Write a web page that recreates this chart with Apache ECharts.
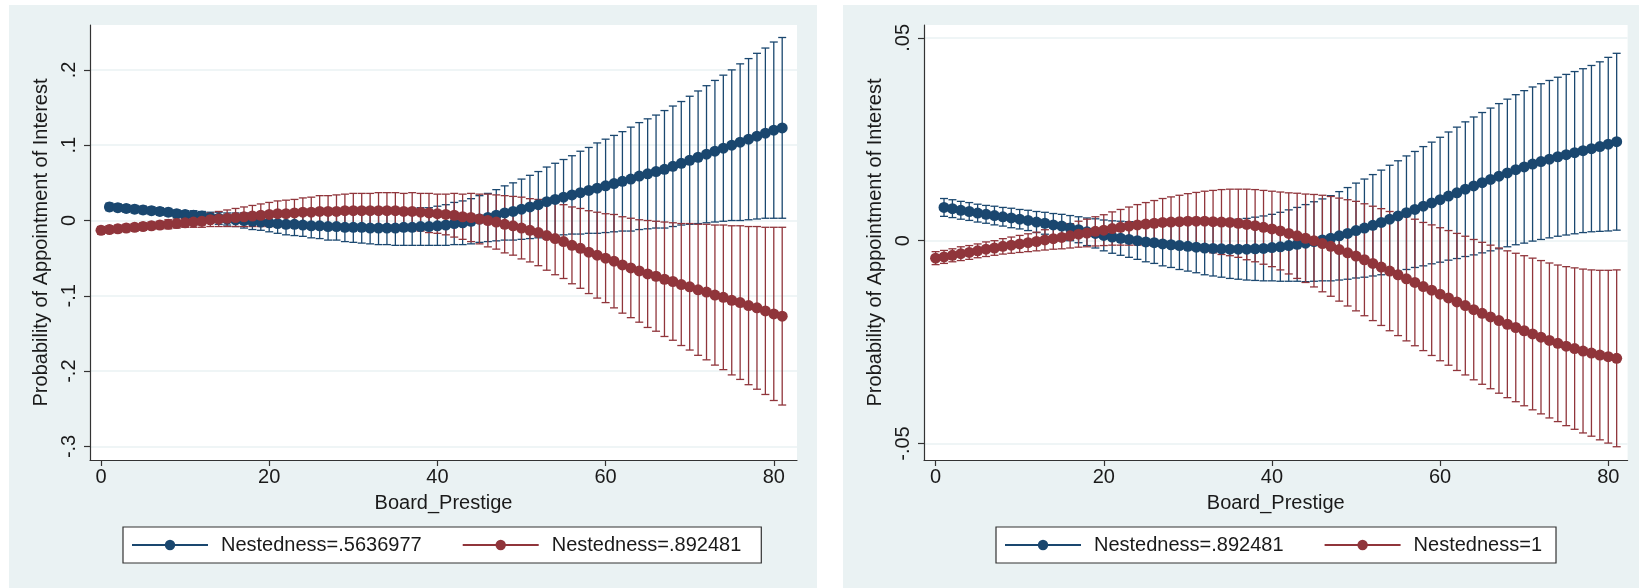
<!DOCTYPE html>
<html>
<head>
<meta charset="utf-8">
<script src="https://cdn.jsdelivr.net/npm/echarts@6/dist/echarts.min.js"></script>
<style>
html, body { margin: 0; padding: 0; background: #fff; width: 1639px; height: 588px; overflow: hidden; }
.panel { position: absolute; top: 5px; height: 583px; background: #eaf2f3; }
#left { left: 9px; width: 808px; }
#right { left: 843px; width: 796px; }
</style>
</head>
<body>
<div id="left" class="panel"></div>
<div id="right" class="panel"></div>
<script>
// Board_Prestige values (red series start at 0, blue at 1)
const prestige = [0,1,2,3,4,5,6,7,8,9,10,11,12,13,14,15,16,17,18,19,20,21,22,23,24,25,26,27,28,29,30,
  31,32,33,34,35,36,37,38,39,40,41,42,43,44,45,46,47,48,49,50,51,52,53,54,55,56,57,58,59,60,
  61,62,63,64,65,66,67,68,69,70,71,72,73,74,75,76,77,78,79,80,81];

const xTicks = [0, 20, 40, 60, 80];
const yTicksLeft = [-0.3, -0.2, -0.1, 0, 0.1, 0.2];
const yTicksRight = [-0.05, 0, 0.05];

// left panel: Nestedness=.5636977 (x = 1..81)
const leftBlueMean = [
  0.018,0.017,0.016,0.015,0.014,0.013,0.012,0.011,0.009,0.008,
  0.007,0.006,0.004,0.003,0.002,0.001,0.000,-0.001,-0.002,-0.003,
  -0.004,-0.005,-0.005,-0.006,-0.007,-0.007,-0.008,-0.008,-0.009,-0.009,
  -0.009,-0.010,-0.010,-0.010,-0.010,-0.009,-0.009,-0.008,-0.008,-0.007,
  -0.006,-0.004,-0.003,-0.001,0.002,0.004,0.007,0.010,0.012,0.015,
  0.018,0.021,0.025,0.028,0.031,0.034,0.037,0.040,0.043,0.046,
  0.049,0.052,0.055,0.059,0.062,0.065,0.068,0.072,0.076,0.080,
  0.084,0.088,0.092,0.096,0.100,0.104,0.108,0.112,0.116,0.120,
  0.123];
const leftBlueCI = [
  0.005,0.005,0.005,0.005,0.005,0.005,0.005,0.005,0.005,0.005,
  0.006,0.006,0.007,0.008,0.008,0.009,0.010,0.011,0.011,0.012,
  0.013,0.014,0.015,0.015,0.016,0.017,0.018,0.018,0.019,0.020,
  0.021,0.021,0.022,0.022,0.023,0.024,0.024,0.025,0.025,0.026,
  0.027,0.028,0.029,0.030,0.031,0.032,0.034,0.036,0.038,0.040,
  0.042,0.044,0.046,0.048,0.050,0.052,0.055,0.057,0.060,0.062,
  0.064,0.066,0.069,0.071,0.073,0.075,0.078,0.080,0.082,0.085,
  0.088,0.091,0.094,0.097,0.100,0.104,0.107,0.110,0.113,0.117,
  0.120];
// left panel: Nestedness=.892481 (x = 0..81)
const leftRedMean = [
  -0.013,-0.012,-0.011,-0.010,-0.009,-0.008,-0.007,-0.006,-0.005,-0.004,
  -0.003,-0.002,-0.001,0.001,0.002,0.003,0.004,0.005,0.006,0.007,
  0.008,0.009,0.009,0.010,0.011,0.011,0.012,0.012,0.012,0.013,
  0.013,0.013,0.013,0.013,0.013,0.013,0.012,0.012,0.011,0.010,
  0.009,0.008,0.007,0.005,0.004,0.002,0.000,-0.002,-0.005,-0.007,
  -0.010,-0.013,-0.016,-0.020,-0.024,-0.028,-0.033,-0.037,-0.042,-0.046,
  -0.050,-0.054,-0.059,-0.063,-0.067,-0.071,-0.074,-0.078,-0.081,-0.085,
  -0.088,-0.092,-0.095,-0.099,-0.102,-0.106,-0.109,-0.113,-0.116,-0.120,
  -0.124,-0.127];
const leftRedCI = [
  0.005,0.005,0.005,0.005,0.005,0.005,0.005,0.005,0.006,0.006,
  0.006,0.007,0.008,0.009,0.010,0.011,0.012,0.013,0.014,0.015,
  0.016,0.017,0.018,0.018,0.019,0.020,0.021,0.021,0.022,0.022,
  0.023,0.023,0.023,0.024,0.024,0.024,0.024,0.025,0.025,0.026,
  0.026,0.027,0.029,0.030,0.032,0.033,0.035,0.036,0.038,0.039,
  0.041,0.042,0.044,0.046,0.048,0.049,0.051,0.053,0.055,0.057,
  0.059,0.062,0.064,0.066,0.068,0.071,0.073,0.076,0.078,0.081,
  0.084,0.087,0.090,0.093,0.096,0.099,0.102,0.105,0.108,0.111,
  0.115,0.118];

// right panel: Nestedness=.892481 (x = 1..81)
const rightBlueMean = [
  0.0082,0.0079,0.0075,0.0072,0.0068,0.0065,0.0062,0.0059,0.0056,0.0053,
  0.0050,0.0046,0.0043,0.0039,0.0036,0.0031,0.0027,0.0022,0.0018,0.0013,
  0.0009,0.0006,0.0003,0.0000,-0.0003,-0.0005,-0.0008,-0.0010,-0.0012,-0.0014,
  -0.0016,-0.0018,-0.0019,-0.0020,-0.0021,-0.0021,-0.0021,-0.0020,-0.0019,-0.0017,
  -0.0015,-0.0012,-0.0009,-0.0006,-0.0002,0.0002,0.0006,0.0012,0.0018,0.0025,
  0.0031,0.0038,0.0045,0.0053,0.0061,0.0069,0.0077,0.0085,0.0093,0.0101,
  0.0110,0.0118,0.0127,0.0135,0.0143,0.0151,0.0159,0.0167,0.0175,0.0182,
  0.0189,0.0195,0.0201,0.0207,0.0212,0.0217,0.0222,0.0227,0.0232,0.0238,
  0.0244];
const rightBlueCI = [
  0.0022,0.0022,0.0022,0.0022,0.0022,0.0022,0.0023,0.0023,0.0024,0.0024,
  0.0025,0.0026,0.0027,0.0028,0.0029,0.0031,0.0032,0.0034,0.0036,0.0038,
  0.0040,0.0042,0.0044,0.0046,0.0049,0.0051,0.0054,0.0056,0.0059,0.0061,
  0.0063,0.0066,0.0068,0.0070,0.0072,0.0074,0.0076,0.0078,0.0080,0.0082,
  0.0085,0.0088,0.0091,0.0095,0.0098,0.0101,0.0105,0.0109,0.0113,0.0117,
  0.0121,0.0125,0.0129,0.0133,0.0136,0.0140,0.0143,0.0147,0.0150,0.0154,
  0.0158,0.0162,0.0166,0.0170,0.0173,0.0176,0.0179,0.0182,0.0185,0.0188,
  0.0190,0.0192,0.0194,0.0196,0.0198,0.0200,0.0202,0.0205,0.0209,0.0214,
  0.0218];
// right panel: Nestedness=1 (x = 0..81)
const rightRedMean = [
  -0.0043,-0.0040,-0.0036,-0.0032,-0.0029,-0.0025,-0.0021,-0.0018,-0.0014,-0.0011,
  -0.0008,-0.0005,-0.0002,0.0002,0.0005,0.0008,0.0012,0.0016,0.0019,0.0023,
  0.0026,0.0030,0.0033,0.0036,0.0039,0.0041,0.0043,0.0045,0.0046,0.0047,
  0.0048,0.0048,0.0048,0.0047,0.0046,0.0045,0.0043,0.0040,0.0037,0.0033,
  0.0029,0.0024,0.0018,0.0012,0.0006,0.0000,-0.0007,-0.0014,-0.0022,-0.0030,
  -0.0038,-0.0047,-0.0056,-0.0065,-0.0075,-0.0084,-0.0094,-0.0103,-0.0113,-0.0122,
  -0.0132,-0.0141,-0.0151,-0.0160,-0.0170,-0.0179,-0.0188,-0.0197,-0.0206,-0.0214,
  -0.0222,-0.0230,-0.0238,-0.0246,-0.0253,-0.0260,-0.0266,-0.0272,-0.0277,-0.0282,
  -0.0286,-0.0290];
const rightRedCI = [
  0.0016,0.0016,0.0016,0.0017,0.0017,0.0017,0.0018,0.0018,0.0019,0.0020,
  0.0021,0.0022,0.0023,0.0025,0.0026,0.0028,0.0030,0.0032,0.0034,0.0036,
  0.0038,0.0041,0.0044,0.0047,0.0050,0.0053,0.0056,0.0059,0.0062,0.0065,
  0.0068,0.0071,0.0074,0.0077,0.0080,0.0082,0.0084,0.0087,0.0089,0.0091,
  0.0093,0.0096,0.0100,0.0105,0.0109,0.0114,0.0119,0.0123,0.0127,0.0131,
  0.0135,0.0138,0.0141,0.0144,0.0147,0.0150,0.0153,0.0156,0.0158,0.0161,
  0.0164,0.0166,0.0169,0.0171,0.0173,0.0175,0.0177,0.0179,0.0181,0.0183,
  0.0185,0.0187,0.0189,0.0191,0.0193,0.0196,0.0199,0.0202,0.0205,0.0209,
  0.0213,0.0218];

const NAVY = '#1a476f';
const MAROON = '#90353b';
const FONT = '"Liberation Sans", Arial, sans-serif';
const TEXT = '#1a1a1a';

// stata style tick labels: .2, -.1, 0
const stataNum = v => (v === 0 ? '0' : String(v).replace('0.', '.'));

const points = (xs, mean) => mean.map((m, i) => [xs[i], m]);
const bars = (xs, mean, ci) => mean.map((m, i) => [xs[i], m - ci[i], m + ci[i]]);

const capRenderer = color => (params, api) => {
    const x = api.value(0);
    const lo = api.coord([x, api.value(1)]);
    const hi = api.coord([x, api.value(2)]);
    const cap = 4;
    const style = { stroke: color, lineWidth: 1.3, fill: null };
    return {
        type: 'group',
        children: [
            { type: 'line', shape: { x1: lo[0], y1: lo[1], x2: hi[0], y2: hi[1] }, style },
            { type: 'line', shape: { x1: lo[0] - cap, y1: lo[1], x2: lo[0] + cap, y2: lo[1] }, style },
            { type: 'line', shape: { x1: hi[0] - cap, y1: hi[1], x2: hi[0] + cap, y2: hi[1] }, style }
        ]
    };
};

let option = p => ({
    animation: false,
    textStyle: { fontFamily: FONT },
    grid: {
        left: 81, top: 20, width: p.gridWidth, height: 435,
        show: true, backgroundColor: '#ffffff', borderWidth: 0,
        containLabel: false, outerBoundsMode: 'none'
    },
    legend: {
        data: [p.blueName, p.redName],
        left: p.legendLeft, top: 522,
        orient: 'horizontal',
        padding: [8, p.legendPadRight, 8, 8],
        itemWidth: 76, itemHeight: 13, itemGap: 40,
        backgroundColor: '#ffffff', borderColor: '#333333', borderWidth: 1.2, borderRadius: 0,
        textStyle: { fontSize: 20, color: TEXT, fontFamily: FONT, padding: [0, 0, 0, 8] },
        selectedMode: false
    },
    xAxis: {
        type: 'value', min: p.xMin, max: p.xMax,
        name: 'Board_Prestige', nameLocation: 'middle', nameGap: 33,
        nameTextStyle: { fontSize: 20, color: TEXT, fontFamily: FONT },
        axisLine: { show: true, onZero: false, lineStyle: { color: '#333333', width: 1.2 } },
        axisTick: { show: true, customValues: xTicks, length: 6, lineStyle: { color: '#333333', width: 1.2 } },
        axisLabel: { customValues: xTicks, fontSize: 20, color: TEXT, margin: 7, fontFamily: FONT },
        splitLine: { show: false }
    },
    yAxis: {
        type: 'value', min: p.yMin, max: p.yMax,
        name: 'Probability of Appointment of Interest', nameLocation: 'middle', nameGap: 37,
        nameTextStyle: { fontSize: 20, color: TEXT, fontFamily: FONT },
        axisLine: { show: true, onZero: false, lineStyle: { color: '#333333', width: 1.2 } },
        axisTick: { show: true, customValues: p.yTicks, length: 6, lineStyle: { color: '#333333', width: 1.2 } },
        axisLabel: { customValues: p.yTicks, rotate: 90, fontSize: 20, color: TEXT, margin: 11,
            fontFamily: FONT, formatter: stataNum },
        splitLine: { show: true, lineStyle: { color: '#eaf2f3', width: 1.5 } }
    },
    series: [
        {
            name: 'ci-blue', type: 'custom', renderItem: capRenderer(NAVY),
            encode: { x: 0, y: [1, 2] }, data: p.blueBars, z: 2
        },
        {
            name: 'ci-red', type: 'custom', renderItem: capRenderer(MAROON),
            encode: { x: 0, y: [1, 2] }, data: p.redBars, z: 2
        },
        {
            name: p.blueName, type: 'line', data: p.bluePoints, z: 3,
            symbol: 'circle', symbolSize: 11, showSymbol: true,
            itemStyle: { color: NAVY }, lineStyle: { color: NAVY, width: 1.8 }
        },
        {
            name: p.redName, type: 'line', data: p.redPoints, z: 4,
            symbol: 'circle', symbolSize: 11, showSymbol: true,
            itemStyle: { color: MAROON }, lineStyle: { color: MAROON, width: 1.8 }
        }
    ]
});

const xsBlue = prestige.slice(1);
const xsRed = prestige;

let leftChart = echarts.init(document.getElementById('left'), null, { renderer: 'canvas' });
leftChart.setOption(option({
    gridWidth: 707, xMin: -1.31, xMax: 82.76, yMin: -0.318, yMax: 0.2596, yTicks: yTicksLeft,
    legendLeft: 114, legendPadRight: 20,
    blueName: 'Nestedness=.5636977', redName: 'Nestedness=.892481',
    bluePoints: points(xsBlue, leftBlueMean), redPoints: points(xsRed, leftRedMean),
    blueBars: bars(xsBlue, leftBlueMean, leftBlueCI), redBars: bars(xsRed, leftRedMean, leftRedCI)
}));

let rightChart = echarts.init(document.getElementById('right'), null, { renderer: 'canvas' });
rightChart.setOption(option({
    gridWidth: 703.6, xMin: -1.38, xMax: 82.3, yMin: -0.05407, yMax: 0.05318, yTicks: yTicksRight,
    legendLeft: 153, legendPadRight: 14,
    blueName: 'Nestedness=.892481', redName: 'Nestedness=1',
    bluePoints: points(xsBlue, rightBlueMean), redPoints: points(xsRed, rightRedMean),
    blueBars: bars(xsBlue, rightBlueMean, rightBlueCI), redBars: bars(xsRed, rightRedMean, rightRedCI)
}));
</script>
</body>
</html>
